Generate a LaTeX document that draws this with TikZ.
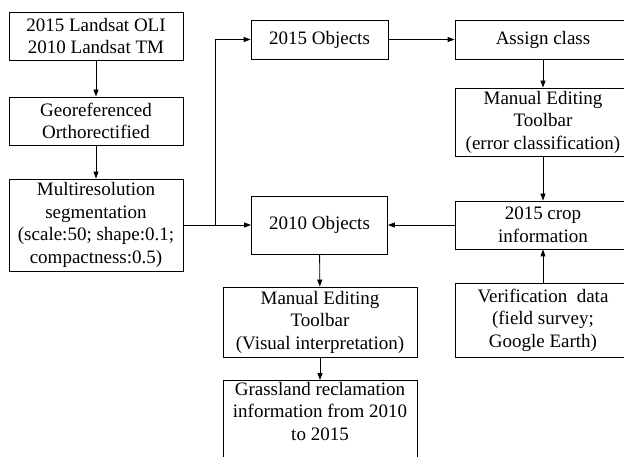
\documentclass[tikz,border=0pt]{standalone}
\usepackage{fontspec}
\setmainfont{Liberation Serif}
\usetikzlibrary{arrows.meta}
\tikzset{
  box/.style={draw, line width=0.9pt, align=center, inner sep=0pt,
    font=\fontsize{19}{22.5}\selectfont},
  txt/.style={align=center, inner sep=0pt, font=\fontsize{19}{22.5}\selectfont},
  arr/.style={line width=0.9pt, -{Triangle[length=7pt,width=5pt]}},
  plain/.style={line width=0.9pt}
}
\begin{document}
\begin{tikzpicture}[x=1pt,y=-1pt]
\clip (0,0) rectangle (624,457);
\fill[white] (0,0) rectangle (624,457);
\node[box, minimum width=174, minimum height=48] (b1) at (96,36) {2015 Landsat OLI\\2010 Landsat TM};
\node[box, minimum width=174, minimum height=48] (b2) at (96,121) {Georeferenced\\Orthorectified};
\node[box, minimum width=174, minimum height=92] (b3) at (96,225) {Multiresolution\\segmentation\\(scale:50; shape:0.1;\\compactness:0.5)};
\node[box, minimum width=137, minimum height=39] (o15) at (319.5,39.5) {2015 Objects};
\node[box, minimum width=136, minimum height=58] (o10) at (319.5,225) {2010 Objects};
\node[box, minimum width=176, minimum height=39] (ac) at (543,39.5) {Assign class};
\node[box, minimum width=176, minimum height=68] (me1) at (543,122) {Manual Editing\\Toolbar\\(error classification)};
\node[box, minimum width=176, minimum height=48] (crop) at (543,225) {2015 crop\\information};
\node[box, minimum width=176, minimum height=74] (ver) at (543,320) {Verification\ \ data\\(field survey;\\Google Earth)};
\node[box, minimum width=194, minimum height=70] (me2) at (320,322) {Manual Editing\\Toolbar\\(Visual interpretation)};
\node[box, anchor=north, minimum width=194, minimum height=100] (gr) at (320,380) {};
\node[txt, anchor=north] (grt) at (320,382) {Grassland reclamation\\information from 2010\\to 2015};
\coordinate (sp) at (215,225);
\draw[arr] (b1) -- (b2);
\draw[arr] (b2) -- (b3);
\draw[arr] (b3.east) -- (o10.west);
\draw[arr] (sp) |- (o15.west);
\draw[arr] (o15) -- (ac);
\draw[arr] (ac) -- (me1);
\draw[arr] (me1) -- (crop);
\draw[arr] (crop) -- (o10);
\draw[arr] (ver) -- (crop);
\draw[arr] (o10) -- (me2);
\draw[arr] (me2) -- (gr);
\end{tikzpicture}
\end{document}
